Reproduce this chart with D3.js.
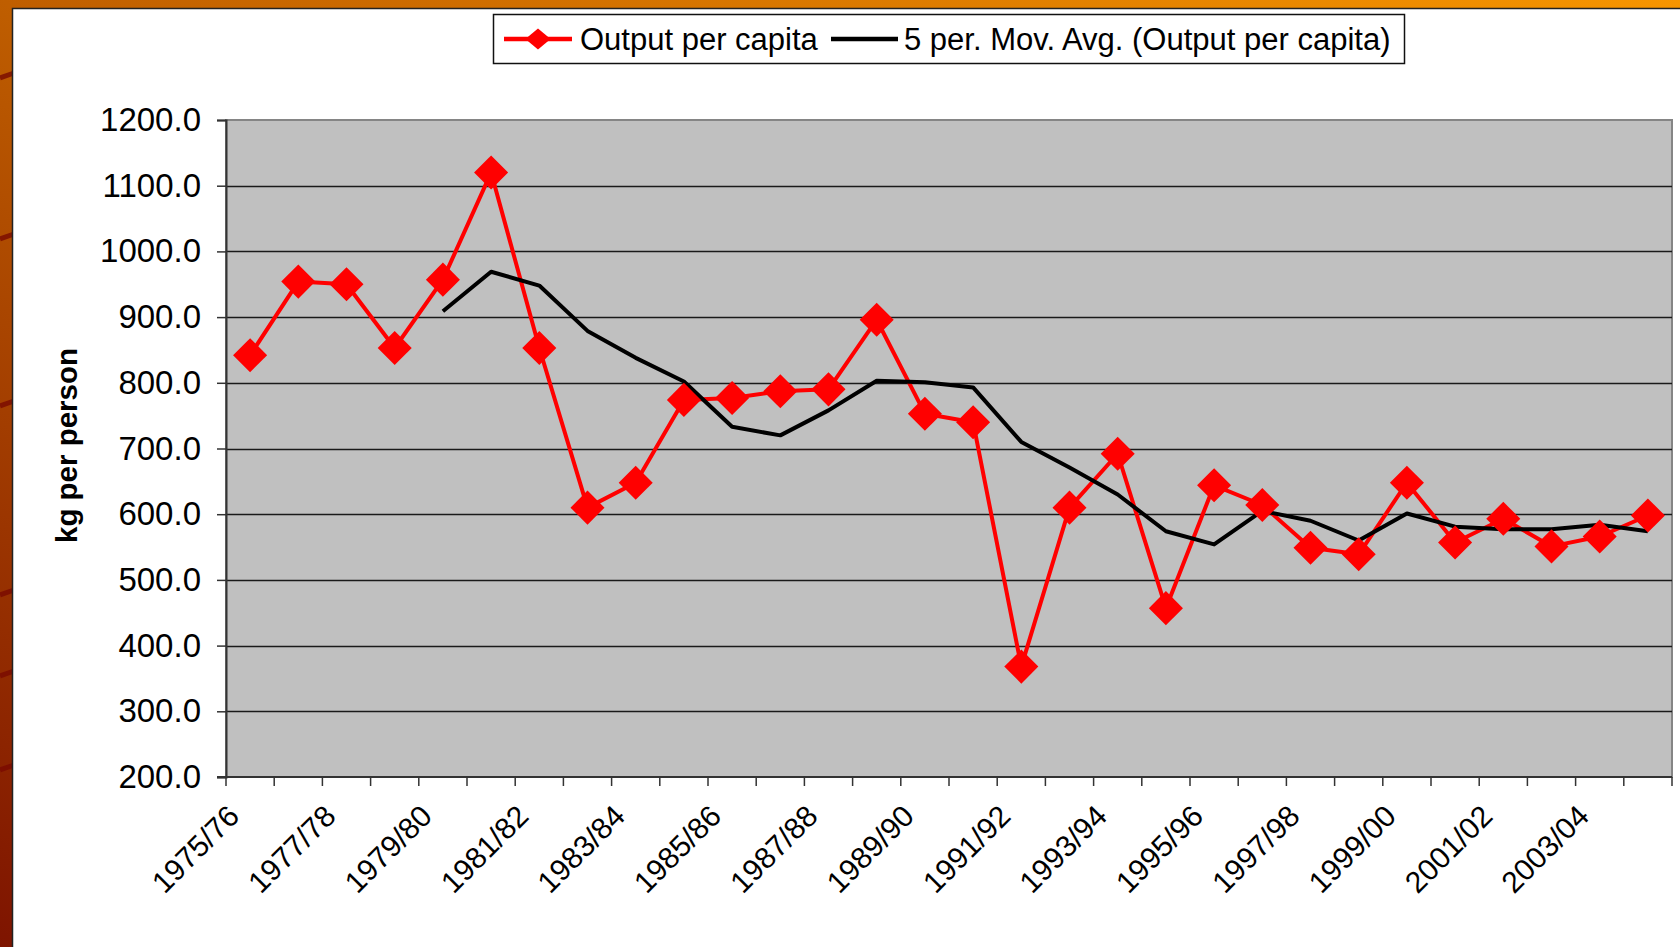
<!DOCTYPE html>
<html>
<head>
<meta charset="utf-8">
<script src="https://cdn.jsdelivr.net/npm/d3@7"></script>
<style>
    html, body { margin: 0; padding: 0; background: #fff; }
    svg { display: block; font-family: "Liberation Sans", Arial, sans-serif; }
</style>
</head>
<body>
<div class="chart"></div>
<script>
const seasons = [
    "1975/76", "1976/77", "1977/78", "1978/79", "1979/80", "1980/81",
    "1981/82", "1982/83", "1983/84", "1984/85", "1985/86", "1986/87",
    "1987/88", "1988/89", "1989/90", "1990/91", "1991/92", "1992/93",
    "1993/94", "1994/95", "1995/96", "1996/97", "1997/98", "1998/99",
    "1999/00", "2000/01", "2001/02", "2002/03", "2003/04", "2004/05"
];
const outputPerCapita = [
    842, 954, 950, 853, 957, 1120, 853, 610, 648, 774, 777, 787,
    790, 896, 753, 740, 368, 610, 692, 457, 644, 614, 549, 539,
    648, 557, 593, 551, 566, 598
];
// nothing drawn for the first four seasons
const movingAvg = [
    null, null, null, null, 909, 969, 948, 879, 838, 802, 733, 720,
    758, 803, 801, 793, 710, 671, 630, 574, 554, 605, 590, 560,
    601, 581, 577, 577, 584, 574
];
const xLabels = [
    "1975/76", "1977/78", "1979/80", "1981/82", "1983/84", "1985/86",
    "1987/88", "1989/90", "1991/92", "1993/94", "1995/96", "1997/98",
    "1999/00", "2001/02", "2003/04"
];
const yTicks = [200, 300, 400, 500, 600, 700, 800, 900, 1000, 1100, 1200];
const seriesNames = ["Output per capita", "5 per. Mov. Avg. (Output per capita)"];

const width = 1680;
const height = 947;
const plot = {left: 226, right: 1672, top: 120, bottom: 777};

const svg = d3.select(".chart")
    .append("svg")
    .attr("width", width)
    .attr("height", height);

_drawFrame();

const x = d3.scaleBand()
    .domain(seasons)
    .range([plot.left, plot.right]);
const y = d3.scaleLinear()
    .domain([200, 1200])
    .range([plot.bottom, plot.top]);

_drawPlotArea();
_drawAxes();
_drawSeries();
_drawLegend();

function _drawFrame() {
    const defs = svg.append("defs");
    const grad = defs.append("linearGradient")
        .attr("id", "frameGrad")
        .attr("x1", 0).attr("y1", 1)
        .attr("x2", 1).attr("y2", 0);
    grad.append("stop").attr("offset", 0).attr("stop-color", "#7e1400");
    grad.append("stop").attr("offset", 0.5).attr("stop-color", "#bf5e00");
    grad.append("stop").attr("offset", 1).attr("stop-color", "#f79500");

    svg.append("rect")
        .attr("width", width)
        .attr("height", height)
        .attr("fill", "url(#frameGrad)");

    // dark streaks on the left strip
    svg.selectAll(".streak")
        .data([75, 236, 403, 592, 673, 767])
        .enter()
        .append("line")
        .attr("class", "streak")
        .attr("x1", 0).attr("x2", 14)
        .attr("y1", (d) => d + 3)
        .attr("y2", (d) => d - 2)
        .attr("stroke", "#7a0a00")
        .attr("stroke-width", 5)
        .attr("opacity", 0.8);

    svg.append("rect")
        .attr("x", 12.5)
        .attr("y", 8.5)
        .attr("width", width)
        .attr("height", height)
        .attr("fill", "#fff")
        .attr("stroke", "#222")
        .attr("stroke-width", 1.5);
}

function _drawPlotArea() {
    svg.append("rect")
        .attr("x", plot.left)
        .attr("y", plot.top)
        .attr("width", plot.right - plot.left)
        .attr("height", plot.bottom - plot.top)
        .attr("fill", "#c0c0c0")
        .attr("stroke", "#858585")
        .attr("stroke-width", 2);

    svg.append("g")
        .attr("class", "grid")
        .selectAll("line")
        .data(yTicks.filter((d) => d > 200 && d < 1200))
        .enter()
        .append("line")
        .attr("x1", plot.left)
        .attr("x2", plot.right)
        .attr("y1", (d) => Math.round(y(d)) + 0.5)
        .attr("y2", (d) => Math.round(y(d)) + 0.5)
        .attr("stroke", "#1a1a1a")
        .attr("stroke-width", 1.3);
}

function _drawAxes() {
    const yAxis = d3.axisLeft(y)
        .tickValues(yTicks)
        .tickFormat(d3.format(".1f"))
        .tickSize(9)
        .tickPadding(16);

    const gy = svg.append("g")
        .attr("class", "y-axis")
        .attr("transform", `translate(${plot.left},0)`)
        .call(yAxis);
    gy.select(".domain").attr("stroke", "#333").attr("stroke-width", 2);
    gy.selectAll(".tick line").attr("stroke", "#333").attr("stroke-width", 1.5);
    gy.selectAll(".tick text")
        .attr("fill", "#000")
        .style("font-size", "33px")
        .style("font-family", "'Liberation Sans', Arial, sans-serif");

    // category axis: ticks between the seasons, every other season labelled
    const gx = svg.append("g")
        .attr("class", "x-axis");

    gx.append("line")
        .attr("x1", plot.left - 9)
        .attr("x2", plot.right)
        .attr("y1", plot.bottom)
        .attr("y2", plot.bottom)
        .attr("stroke", "#333")
        .attr("stroke-width", 2);

    gx.selectAll(".tick")
        .data(seasons.concat([null]))
        .enter()
        .append("line")
        .attr("class", "tick")
        .attr("x1", (d) => d === null ? plot.right : x(d))
        .attr("x2", (d) => d === null ? plot.right : x(d))
        .attr("y1", plot.bottom)
        .attr("y2", plot.bottom + 9)
        .attr("stroke", "#333")
        .attr("stroke-width", 1.5);

    gx.selectAll(".label")
        .data(xLabels)
        .enter()
        .append("text")
        .attr("class", "label")
        .attr("text-anchor", "end")
        .attr("transform", (d) => {
            const cx = x(d) + x.bandwidth() / 2;
            return `translate(${cx - 9},${plot.bottom + 41}) rotate(-45)`;
        })
        .style("font-size", "30px")
        .text((d) => d);

    svg.append("text")
        .attr("class", "y-title")
        .attr("text-anchor", "middle")
        .attr("transform", `translate(77,${(plot.top + plot.bottom) / 2 - 3}) rotate(-90)`)
        .style("font-size", "29.5px")
        .style("font-weight", "bold")
        .text("kg per person");
}

function _drawSeries() {
    const cx = (i) => x(seasons[i]) + x.bandwidth() / 2;

    const line = d3.line()
        .defined((d) => d !== null)
        .x((d, i) => cx(i))
        .y((d) => y(d));

    svg.append("path")
        .attr("class", "line output")
        .attr("d", line(outputPerCapita))
        .attr("fill", "none")
        .attr("stroke", "#ff0000")
        .attr("stroke-width", 4)
        .attr("stroke-linejoin", "round");

    svg.append("path")
        .attr("class", "line avg")
        .attr("d", line(movingAvg))
        .attr("fill", "none")
        .attr("stroke", "#000")
        .attr("stroke-width", 4)
        .attr("stroke-linejoin", "round");

    const diamond = d3.symbol().type(d3.symbolSquare).size(580);

    svg.selectAll(".marker")
        .data(outputPerCapita)
        .enter()
        .append("path")
        .attr("class", "marker")
        .attr("d", diamond)
        .attr("transform", (d, i) => `translate(${cx(i)},${y(d)}) rotate(45)`)
        .attr("fill", "#ff0000");
}

function _drawLegend() {
    const legend = svg.append("g")
        .attr("class", "legend");
    const midY = 39;

    legend.append("rect")
        .attr("x", 493.5)
        .attr("y", 14.5)
        .attr("width", 911)
        .attr("height", 49)
        .attr("fill", "#fff")
        .attr("stroke", "#111")
        .attr("stroke-width", 1.5);

    const items = [
        {name: seriesNames[0], color: "#ff0000", x1: 504, x2: 572, textX: 580, marker: true},
        {name: seriesNames[1], color: "#000", x1: 831, x2: 898, textX: 904, marker: false}
    ];

    const item = legend.selectAll(".item")
        .data(items)
        .enter()
        .append("g")
        .attr("class", "item");

    item.append("line")
        .attr("x1", (d) => d.x1)
        .attr("x2", (d) => d.x2)
        .attr("y1", midY)
        .attr("y2", midY)
        .attr("stroke", (d) => d.color)
        .attr("stroke-width", 4.5);

    item.filter((d) => d.marker)
        .append("path")
        .attr("d", d3.symbol().type(d3.symbolSquare).size(240))
        .attr("transform", (d) => `translate(${(d.x1 + d.x2) / 2},${midY}) scale(1.15,0.95) rotate(45)`)
        .attr("fill", (d) => d.color);

    item.append("text")
        .attr("x", (d) => d.textX)
        .attr("y", midY)
        .attr("dy", ".35em")
        .style("font-size", "31px")
        .text((d) => d.name);
}
</script>
</body>
</html>
